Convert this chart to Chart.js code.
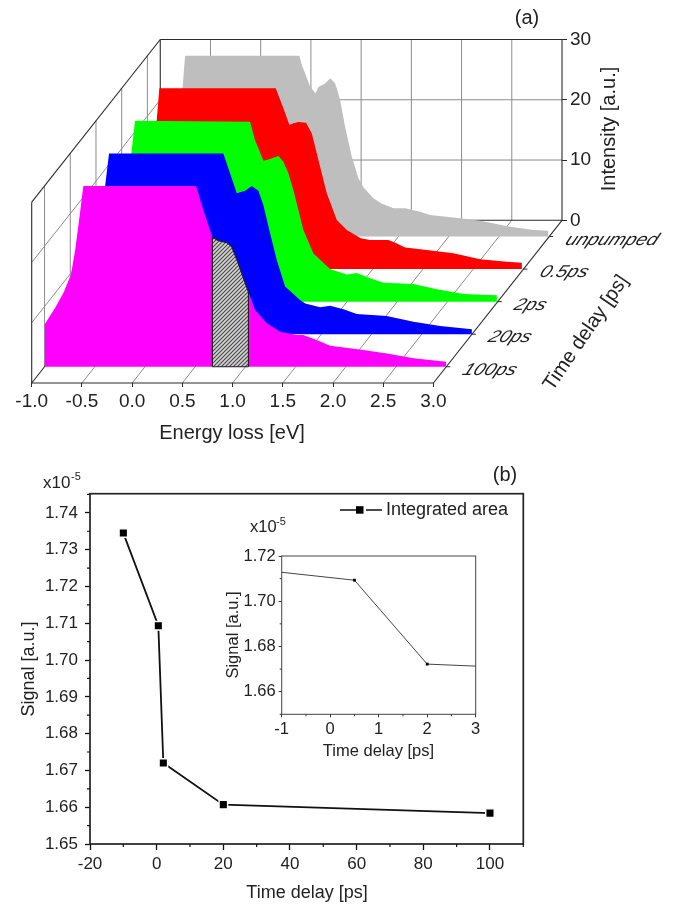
<!DOCTYPE html>
<html><head><meta charset="utf-8">
<script src="https://cdn.jsdelivr.net/npm/chart.js@4"></script>
<style>
html,body{margin:0;padding:0;background:#fff;width:673px;height:905px;overflow:hidden}
canvas{position:absolute;filter:blur(0.45px)}
</style></head><body>
<canvas id="a" width="673" height="450" style="left:0;top:0;width:673px;height:450px"></canvas>
<canvas id="b" width="673" height="455" style="left:0;top:450px;width:673px;height:455px"></canvas>
<canvas id="c" width="300" height="270" style="left:200px;top:500px;width:300px;height:270px"></canvas>
<script>
// ---------- Panel (a) data ----------
const energyTicks=[-1,-0.5,0,0.5,1,1.5,2,2.5,3];
const intensityTicks=[0,10,20,30];
const delayLabels=['100ps','20ps','2ps','0.5ps','unpumped'];
const delayDepths=[0.1,0.3,0.5,0.7,0.9];

const energy100=[-1,-0.894,-0.81,-0.737,-0.694,-0.651,-0.614,0.509,0.581,0.671,0.731,0.814,0.864,0.93,0.98,1.03,1.096,1.213,1.345,1.511,1.577,1.71,1.843,2.175,2.44,2.673,2.998];
const intensity100=[7,9.8,12.3,15.3,19.5,25,30,30,26,21.5,20.9,20.6,19.9,17.1,14.7,12.4,9.4,7.2,5.8,5.25,5.25,4.43,3.48,2.77,2.1,1.39,0.83];
const energy20=[-1,-0.89,-0.8,-0.73,-0.69,-0.65,-0.614,0.524,0.591,0.658,0.741,0.807,0.873,0.923,0.99,1.056,1.139,1.288,1.34,1.488,1.587,1.72,1.853,2.15,2.417,2.683,2.999];
const intensity20=[7,10,12.5,15.5,19.5,25,30,30,26.7,23.4,23.8,24.6,23.8,21.4,16.7,12.3,7.9,5.67,5.1,4.46,4.7,4.13,3.35,3,2.07,1.36,0.81];
const energy2=[-1,-0.89,-0.8,-0.73,-0.69,-0.645,-0.611,0.534,0.584,0.667,0.717,0.816,0.866,0.916,0.966,1.065,1.165,1.33,1.497,1.597,1.73,1.863,2.16,2.394,2.66,2.992];
const intensity2=[7,10,12.5,15.5,19.5,25,30,29.84,26.8,23.4,23.6,24.15,23.2,21.3,18.5,11.9,8,5.4,4.5,4.77,3.9,3.15,2.93,2.05,1.27,1.05];
const energy05=[-1,-0.89,-0.8,-0.73,-0.69,-0.65,-0.625,0.534,0.61,0.67,0.71,0.76,0.836,0.893,0.959,1.042,1.142,1.241,1.38,1.474,1.573,1.656,1.723,1.822,2.038,2.303,2.569,2.835,2.985];
const intensity05=[7,10,12.5,15.5,19.5,24.9,30,30,26.7,23.9,24.2,24.4,24.3,22.5,18.1,12.6,8.14,6.5,5.1,4.83,4.83,4.83,4.38,3.6,3.17,2.62,1.63,1.23,1.06];
const energyUnpumped=[-1,-0.89,-0.8,-0.73,-0.69,-0.65,-0.625,0.513,0.537,0.62,0.673,0.703,0.77,0.82,0.87,0.919,0.969,1.035,1.101,1.151,1.25,1.33,1.45,1.566,1.715,1.815,2.114,2.313,2.612,2.844,2.993];
const intensityUnpumped=[7,10,12.5,15.5,19.5,24.6,30,30,28.5,24.9,23.8,24.8,25.4,26.25,25.4,22.65,18.2,13.25,9.66,8.17,6.35,5.5,4.7,4.7,4.13,3.58,3.03,2.64,1.64,1.09,0.98];
const hatchStart=0.671, hatchEnd=1.03;

// ---------- Panel (b) data ----------
const delayMain=[-10,0.5,2,20,100];
const signalMain=[1.7345,1.7093,1.672,1.6607,1.6584];
const mainXTicks=[-20,0,20,40,60,80,100];
const mainXMinor=[-10,10,30,50,70,90,110];
const mainYTicks=[1.65,1.66,1.67,1.68,1.69,1.70,1.71,1.72,1.73,1.74];
const mainYMinor=[1.655,1.665,1.675,1.685,1.695,1.705,1.715,1.725,1.735,1.745];
const delayInset=[-1,0.5,2,3];
const signalInset=[1.7128,1.7093,1.6722,1.6713];
const insetXTicks=[-1,0,1,2,3];
const insetXMinor=[-0.5,0.5,1.5,2.5];
const insetYTicks=[1.66,1.68,1.70,1.72];
const insetYMinor=[1.65,1.67,1.69,1.71];

const FONT='"Liberation Sans", Arial, sans-serif';
const INK='#222';
Chart.defaults.font.family=FONT;
Chart.defaults.color=INK;

// oblique projection of (energy, intensity, depth) onto the library's linear scales
const DX=1.28, DZ=27;
const P=(e,i,d)=>({x:e+d*DX,y:i+d*DZ});
const seg=(a,b,color,w,order)=>({data:[a,b],showLine:true,pointRadius:0,borderColor:color,borderWidth:w,order,fill:false,clip:false,tension:0});

const GRID='#8c8c8c', EDGE='#2a2a2a';
const ds=[];
const inner=energyTicks.slice(1,-1);
inner.forEach(e=>{
  ds.push(seg(P(e,0,1),P(e,30,1),GRID,1,100));
  ds.push(seg(P(e,0,0),P(e,0,1),GRID,1,100));
});
intensityTicks.slice(1,-1).forEach(i=>{
  ds.push(seg(P(-1,i,1),P(3,i,1),GRID,1,100));
  ds.push(seg(P(-1,i,0),P(-1,i,1),GRID,1,100));
});
delayDepths.forEach(d=>{
  ds.push(seg(P(-1,0,d),P(-1,30,d),GRID,1,100));
  ds.push(seg(P(3,0,d),P(3.04,0,d),EDGE,1,90));
});
[[[-1,0,0],[3,0,0]],[[3,0,0],[3,0,1]],[[3,0,1],[3,30,1]],[[-1,30,0],[-1,30,1]],[[-1,30,1],[3,30,1]],
 [[-1,0,0],[-1,30,0]],[[-1,0,1],[-1,30,1]],[[-1,0,0],[-1,0,1]],[[-1,0,1],[3,0,1]]].forEach(([a,b])=>{
  ds.push(seg(P(...a),P(...b),EDGE,1.1,90));
});
const series=[
 [energyUnpumped,intensityUnpumped,'#bebebe',0.9,50],
 [energy05,intensity05,'#ff0000',0.7,40],
 [energy2,intensity2,'#00ff00',0.5,30],
 [energy20,intensity20,'#0000ff',0.3,20],
 [energy100,intensity100,'#ff00ff',0.1,10]
];
series.forEach(([E,I,col,d,order])=>{
  ds.push({data:E.map((e,k)=>P(e,I[k],d)),showLine:true,pointRadius:0,borderWidth:0,borderColor:col,
    backgroundColor:col,fill:{value:d*DZ},order,tension:0});
});
// hatched integration window on the front spectrum
const tile=document.createElement('canvas');tile.width=tile.height=4;
const tc=tile.getContext('2d');tc.fillStyle='#d2d2d2';tc.fillRect(0,0,4,4);
tc.strokeStyle='#4a4a4a';tc.lineWidth=1.1;tc.beginPath();tc.moveTo(-1,5);tc.lineTo(5,-1);tc.moveTo(-1,1);tc.lineTo(1,-1);tc.moveTo(3,5);tc.lineTo(5,3);tc.stroke();
const hatchFill=document.createElement('canvas').getContext('2d').createPattern(tile,'repeat');
const hE=[],hI=[];
energy100.forEach((e,k)=>{if(e>=hatchStart&&e<=hatchEnd){hE.push(e);hI.push(intensity100[k]);}});
const hatchPts=[P(hatchStart,0,0.1),...hE.map((e,k)=>P(e,hI[k],0.1)),P(hatchEnd,0,0.1)];
ds.push({data:hatchPts,showLine:true,pointRadius:0,borderWidth:1.2,borderColor:'#222',backgroundColor:hatchFill,fill:{value:0.1*DZ},order:1,tension:0});
ds.push(seg(P(hatchStart,0,0.1),P(hatchEnd,0,0.1),'#222',1.2,0));

// text + decoration plugin
const deco={id:'deco',
 afterDraw(ch,_,o){
  const c=ch.ctx;
  const {left,right,top,bottom}=ch.chartArea;
  if(o.frame){c.save();c.strokeStyle=o.frame.color;c.lineWidth=o.frame.w;c.strokeRect(left,top,right-left,bottom-top);c.restore();}
  if(o.minor){c.save();c.strokeStyle=o.minor.color;c.lineWidth=o.minor.w;c.beginPath();
    o.minor.x.forEach(v=>{const p=ch.scales.x.getPixelForValue(v);c.moveTo(p,bottom);c.lineTo(p,bottom+o.minor.len);});
    o.minor.y.forEach(v=>{const p=ch.scales.y.getPixelForValue(v);c.moveTo(left,p);c.lineTo(left-o.minor.len,p);});
    c.stroke();c.restore();}
  (o.texts||[]).forEach(t=>{c.save();c.fillStyle=INK;c.font=t.font;c.textAlign=t.align||'center';c.textBaseline='middle';
    c.translate(t.x,t.y);if(t.rot)c.rotate(t.rot);c.fillText(t.t,0,0);c.restore();});
  if(o.after)o.after(ch,c);
 }};
Chart.register(deco);

const scaleBase=(ticks,fmt,len,pad,size,color,w)=>({
  type:'linear',
  afterBuildTicks:s=>{s.ticks=ticks.map(v=>({value:v}));},
  border:{display:false},
  grid:{display:true,drawOnChartArea:false,drawTicks:true,tickLength:len,tickColor:color,tickWidth:w},
  ticks:{autoSkip:false,maxRotation:0,minRotation:0,padding:pad,font:{size},color:INK,callback:fmt}
});

// Panel (a)
const aX=scaleBase(energyTicks,v=>v.toFixed(1),4,3,19,EDGE,1);
aX.min=-1;aX.max=3+DX;aX.afterFit=s=>{s.height=450-383;};
const aY=scaleBase(intensityTicks.map(i=>i+DZ),v=>String(v-DZ),5,3,19,EDGE,1);
aY.min=0;aY.max=30+DZ;aY.position='right';aY.afterFit=s=>{s.width=673-562;};
new Chart(document.getElementById('a'),{type:'scatter',data:{datasets:ds},options:{
  responsive:false,animation:false,events:[],
  layout:{padding:{left:31.7,top:39.5,right:0,bottom:0}},
  scales:{x:aX,y:aY},
  plugins:{legend:{display:false},tooltip:{enabled:false},
   deco:{texts:[
     {t:'(a)',x:527,y:18,font:'20px '+FONT},
     {t:'Energy loss [eV]',x:232,y:433,font:'20px '+FONT},
     {t:'Intensity [a.u.]',x:609,y:129,rot:-Math.PI/2,font:'20px '+FONT},
     {t:'Time delay [ps]',x:586,y:333,rot:-0.97,font:'20px '+FONT}],
    after(ch,c){
      delayLabels.forEach((lab,k)=>{
        const d=delayDepths[k];const q=P(3,0,d);
        const px=ch.scales.x.getPixelForValue(q.x),py=ch.scales.y.getPixelForValue(q.y);
        c.save();c.fillStyle=INK;c.font='italic 17px '+FONT;c.textAlign='left';c.textBaseline='alphabetic';
        c.transform(1.14,0,-0.45,1,px+15,py+8);
        c.fillText(lab,0,0);c.restore();
      });
    }}
  }}});

// Panel (b)
const bX=scaleBase(mainXTicks,v=>String(v),6,4,17,'#111',1.3);
bX.min=-20;bX.max=110;bX.afterFit=s=>{s.height=455-394;};
const bY=scaleBase(mainYTicks,v=>v.toFixed(2),5,7,17,'#111',1.3);
bY.min=1.65;bY.max=1.7452;bY.afterFit=s=>{s.width=90;};
new Chart(document.getElementById('b'),{type:'scatter',data:{datasets:[{
   label:'Integrated area',data:delayMain.map((x,k)=>({x,y:signalMain[k]})),showLine:true,tension:0,
   borderColor:'#111',borderWidth:1.8,pointStyle:'rect',pointRadius:6,pointBackgroundColor:'#000',pointBorderColor:'#fff',pointBorderWidth:1.4,clip:false}]},
  options:{responsive:false,animation:false,events:[],
  layout:{padding:{left:0,top:43.7,right:149.7,bottom:0}},
  scales:{x:bX,y:bY},
  plugins:{legend:{display:false},tooltip:{enabled:false},
   deco:{frame:{color:'#222',w:1.7},minor:{x:mainXMinor,y:mainYMinor,len:3,color:'#111',w:1.2},
    texts:[
     {t:'(b)',x:505,y:25,font:'20px '+FONT},
     {t:'x10',x:43,y:33,align:'left',font:'17px '+FONT},
     {t:'-5',x:71,y:27,align:'left',font:'11px '+FONT},
     {t:'Signal [a.u.]',x:29,y:219,rot:-Math.PI/2,font:'18px '+FONT},
     {t:'Time delay [ps]',x:307,y:443,font:'18px '+FONT},
     {t:'Integrated area',x:386,y:60,align:'left',font:'18px '+FONT}],
    after(ch,c){
      c.save();c.strokeStyle='#111';c.lineWidth=1.5;c.beginPath();c.moveTo(340,60);c.lineTo(356,60);c.moveTo(366,60);c.lineTo(382,60);c.stroke();
      c.fillStyle='#000';c.fillRect(356,56.2,7.5,7.5);c.restore();
    }}
  }}});

// Inset
const cX=scaleBase(insetXTicks,v=>String(v),3,2,16.5,'#333',1);
cX.min=-1;cX.max=3;cX.afterFit=s=>{s.height=270-214.3;};
const cY=scaleBase(insetYTicks,v=>v.toFixed(2),3,3,16.5,'#333',1);
cY.min=1.65;cY.max=1.72;cY.afterFit=s=>{s.width=81.7;};
new Chart(document.getElementById('c'),{type:'scatter',data:{datasets:[{
   data:delayInset.map((x,k)=>({x,y:signalInset[k]})),showLine:true,tension:0,
   borderColor:'#444',borderWidth:1,pointStyle:'rect',pointRadius:[0,2,2,0],pointBackgroundColor:'#000',pointBorderWidth:0,clip:false}]},
  options:{responsive:false,animation:false,events:[],
  layout:{padding:{left:0,top:56,right:24.3,bottom:0}},
  scales:{x:cX,y:cY},
  plugins:{legend:{display:false},tooltip:{enabled:false},
   deco:{frame:{color:'#444',w:1},minor:{x:insetXMinor,y:insetYMinor,len:2,color:'#333',w:1},
    texts:[
     {t:'x10',x:50,y:27,align:'left',font:'16.5px '+FONT},
     {t:'-5',x:76,y:21.5,align:'left',font:'11px '+FONT},
     {t:'Signal [a.u.]',x:33,y:135,rot:-Math.PI/2,font:'16.5px '+FONT},
     {t:'Time delay [ps]',x:178.5,y:251.7,font:'16.5px '+FONT}]}
  }}});
</script>
</body></html>
